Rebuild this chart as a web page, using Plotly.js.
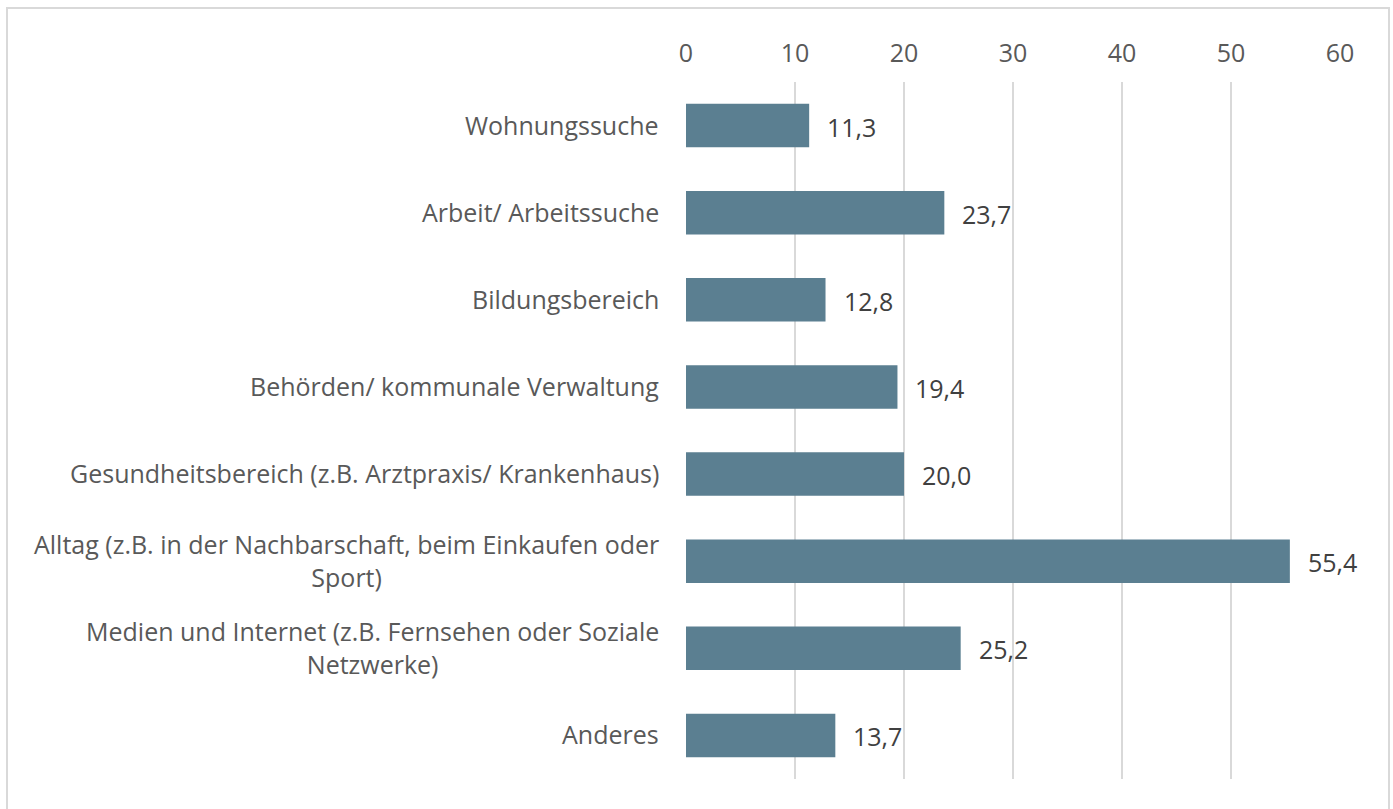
<!DOCTYPE html>
<html><head><meta charset="utf-8">
<script src="https://cdn.plot.ly/plotly-3.0.1.min.js"></script>
<style>
html,body{margin:0;padding:0;background:#fff;}
#wrap{position:relative;width:1393px;height:809px;overflow:hidden;}
#chart{position:absolute;left:0;top:0;width:1393px;height:809px;}
#frame{position:absolute;left:6px;top:7px;width:1384px;height:820px;border:2px solid #d9d9d9;box-sizing:border-box;pointer-events:none;}
</style></head>
<body><div id="wrap"><div id="chart"></div><div id="frame"></div></div>
<script>
const categories = [
  "Wohnungssuche",
  "Arbeit/ Arbeitssuche",
  "Bildungsbereich",
  "Behörden/ kommunale Verwaltung",
  "Gesundheitsbereich (z.B. Arztpraxis/ Krankenhaus)",
  "Alltag (z.B. in der Nachbarschaft, beim Einkaufen oder<br>Sport)",
  "Medien und Internet (z.B. Fernsehen oder Soziale<br>Netzwerke)",
  "Anderes"
];
const values = [11.3, 23.7, 12.8, 19.4, 20.0, 55.4, 25.2, 13.7];
const tickValues = [0, 10, 20, 30, 40, 50, 60];

const fmt = v => v.toFixed(1).replace('.', ',');
const FONT = "Open Sans, sans-serif";
const SIZE = 25;

const trace = {
  type: 'bar', orientation: 'h',
  x: values, y: categories,
  marker: {color: '#5b7f91', line: {width: 0}},
  width: 0.5,
  hoverinfo: 'skip'
};

const valueLabels = values.map((v, i) => ({
  x: v, y: categories[i], xref: 'x', yref: 'y',
  text: fmt(v), showarrow: false, xanchor: 'left', xshift: 16, yshift: -1,
  font: {family: FONT, size: SIZE, color: '#404040'}
}));

const catLabels = categories.map(c => ({
  x: 0, y: c, xref: 'paper', yref: 'y',
  text: c, showarrow: false, xanchor: 'right', align: 'center', xshift: -25, yshift: 1,
  font: {family: FONT, size: SIZE, color: '#595959'}
}));

const layout = {
  width: 1393, height: 809,
  margin: {l: 686, r: 53, t: 82, b: 30, pad: 0},
  paper_bgcolor: '#ffffff', plot_bgcolor: '#ffffff',
  showlegend: false,
  xaxis: {
    side: 'top', range: [0, 60], tickvals: tickValues,
    showgrid: true, gridcolor: '#d9d9d9', gridwidth: 2,
    zeroline: false, showline: false, ticks: '',
    ticklabelstandoff: 14,
    tickfont: {family: FONT, size: SIZE, color: '#595959'},
    fixedrange: true
  },
  yaxis: {
    autorange: 'reversed', showgrid: false, zeroline: false, showline: false,
    ticks: '', showticklabels: false,
    fixedrange: true
  },
  annotations: catLabels.concat(valueLabels)
};

Plotly.newPlot('chart', [trace], layout, {displayModeBar: false, staticPlot: true});
</script></body></html>
